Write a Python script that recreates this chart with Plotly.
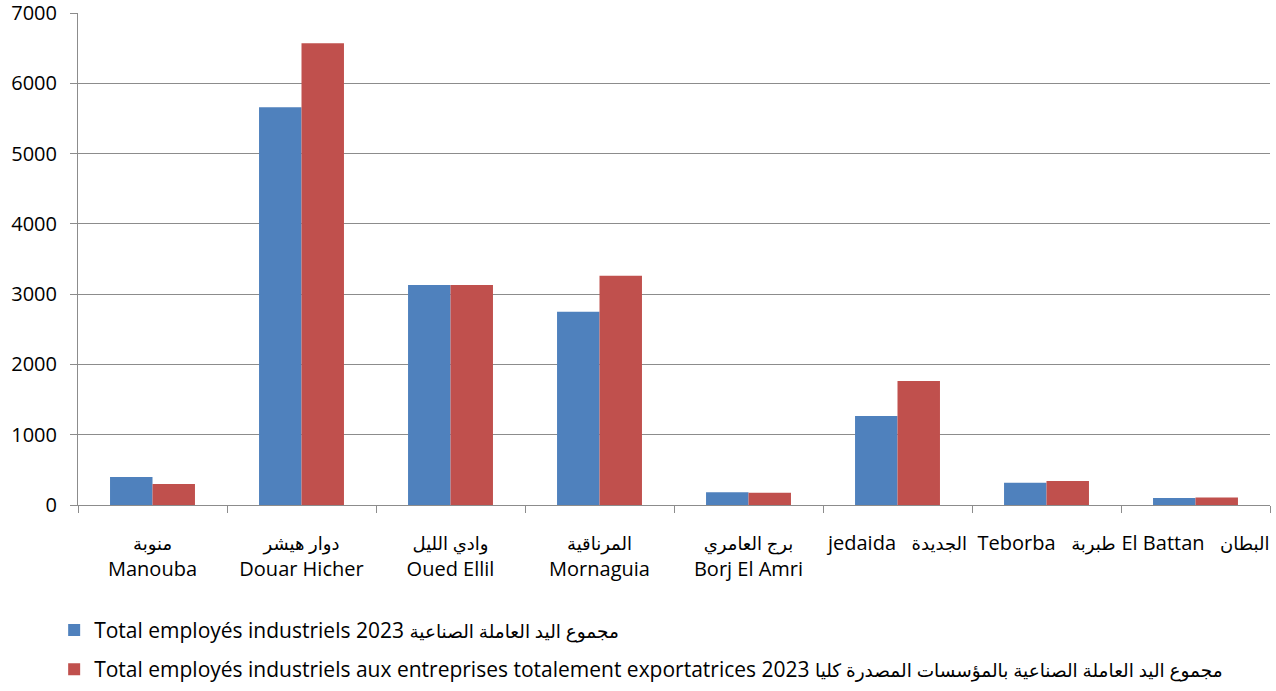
import plotly.graph_objects as go

arabic_names = ["منوبة", "دوار هيشر", "وادي الليل", "المرناقية", "برج العامري", "الجديدة", "طبربة", "البطان"]
french_names = ["Manouba", "Douar Hicher", "Oued Ellil", "Mornaguia", "Borj El Amri", "jedaida", "Teborba", "El Battan"]
two_line = [True, True, True, True, True, False, False, False]

total_2023 = [400, 5660, 3130, 2750, 180, 1265, 315, 100]
export_2023 = [300, 6570, 3130, 3260, 175, 1765, 340, 105]

name_total_fr = "Total employés industriels 2023"
name_total_ar = "مجموع اليد العاملة الصناعية"
name_export_fr = "Total employés industriels aux entreprises totalement exportatrices 2023"
name_export_ar = "مجموع اليد العاملة الصناعية بالمؤسسات المصدرة كليا"

AR = '<span style="font-size:18px">{}</span>'
AR_LEG = '<span style="font-size:18.5px">{}</span>'


def label(ar, fr, two):
    if two:
        return AR.format(ar) + "<br>" + fr
    return fr + "   " + AR.format(ar)


categories = [label(a, f, t) for a, f, t in zip(arabic_names, french_names, two_line)]

FONT = "'Open Sans', 'DejaVu Sans', sans-serif"

fig = go.Figure()
fig.add_trace(go.Bar(x=categories, y=total_2023,
                     name=name_total_fr + " " + AR_LEG.format(name_total_ar),
                     marker=dict(color="#4F81BD", line=dict(width=0)),
                     legendgroup="a"))
fig.add_trace(go.Bar(x=categories, y=export_2023,
                     name=name_export_fr + " " + AR_LEG.format(name_export_ar),
                     marker=dict(color="#C0504D", line=dict(width=0)),
                     legendgroup="b"))

fig.update_layout(
    width=1276, height=691,
    margin=dict(l=78, r=6, t=13, b=186, autoexpand=False),
    paper_bgcolor="white", plot_bgcolor="white",
    barmode="group", bargap=0.43, bargroupgap=0,
    font=dict(family=FONT, size=20, color="black"),
    showlegend=True,
    legend=dict(orientation="v", x=-0.020, xanchor="left", y=-0.213, yanchor="top",
                font=dict(family=FONT, size=21, color="black"),
                tracegroupgap=9, itemwidth=30, traceorder="grouped"),
)
fig.update_yaxes(range=[0, 7000], dtick=1000, showgrid=True, gridcolor="#8c8c8c", gridwidth=1,
                 showline=True, linecolor="#8c8c8c", linewidth=1,
                 ticks="outside", ticklen=7, tickcolor="#8c8c8c",
                 tickfont=dict(size=20), zeroline=False, automargin=False,
                 ticklabelstandoff=9, ticklabeloverflow="allow")
fig.update_xaxes(showgrid=False, showline=True, linecolor="#8c8c8c", linewidth=1,
                 ticks="outside", ticklen=7, tickcolor="#8c8c8c", tickson="boundaries",
                 tickfont=dict(size=20), tickangle=0, automargin=False,
                 ticklabelstandoff=20, ticklabeloverflow="allow")

fig.write_html("out.html", config={"displayModeBar": False},
               post_script="document.body.style.margin='0px';")
